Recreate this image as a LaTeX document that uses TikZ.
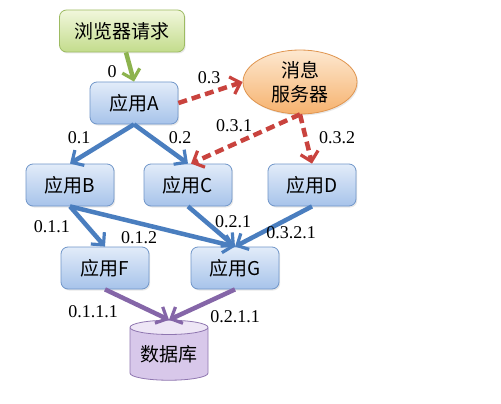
\documentclass[tikz,border=0pt]{standalone}
\usepackage{fontspec}
\setmainfont{Liberation Serif}
\newfontfamily\cjk{Noto Sans CJK SC}
\usetikzlibrary{shapes.geometric,arrows.meta,shadows}
\definecolor{bluetop}{HTML}{E2ECF9}
\definecolor{bluebot}{HTML}{A7C3EA}
\definecolor{blueline}{HTML}{7096C9}
\definecolor{greentop}{HTML}{F1F7DC}
\definecolor{greenbot}{HTML}{C3DC8C}
\definecolor{greenline}{HTML}{9DBB62}
\definecolor{orangetop}{HTML}{FDE8D0}
\definecolor{orangebot}{HTML}{F6B26E}
\definecolor{orangeline}{HTML}{E0954F}
\definecolor{purplebody}{HTML}{D8C8EA}
\definecolor{purpleend}{HTML}{EEE6F6}
\definecolor{purpleline}{HTML}{8F76B0}
\definecolor{arrblue}{HTML}{4A7EBF}
\definecolor{arrred}{HTML}{C9433E}
\definecolor{arrgreen}{HTML}{8DB34E}
\definecolor{arrpurple}{HTML}{8566A8}
\tikzset{
  appbox/.style={rectangle, rounded corners=7pt, draw=blueline, line width=0.8pt,
    top color=bluetop, bottom color=bluebot, minimum width=88pt, minimum height=42pt,
    inner sep=0pt, font=\cjk\fontsize{19}{22}\selectfont,
    drop shadow={opacity=0.18, shadow xshift=1.2pt, shadow yshift=-1.5pt}},
  reqbox/.style={appbox, draw=greenline, top color=greentop, bottom color=greenbot, minimum width=125pt},
  msgnode/.style={ellipse, draw=orangeline, line width=0.8pt, top color=orangetop, bottom color=orangebot,
    minimum width=114pt, minimum height=64pt, inner sep=0pt, align=center,
    font=\cjk\fontsize{19}{24}\selectfont,
    drop shadow={opacity=0.18, shadow xshift=1.2pt, shadow yshift=-1.5pt}},
  dbnode/.style={cylinder, shape border rotate=90, aspect=0.25, draw=purpleline, line width=0.8pt,
    cylinder uses custom fill, cylinder body fill=purplebody, cylinder end fill=purpleend,
    minimum width=78pt, minimum height=60pt, inner sep=0pt, font=\cjk\fontsize{19}{22}\selectfont},
  conn/.style={line width=4.5pt, -{Straight Barb[length=9pt,width=18pt,line width=3.2pt]}},
  bluearr/.style={conn, draw=arrblue},
  redarr/.style={conn, draw=arrred, dash pattern=on 9pt off 5pt},
  greenarr/.style={conn, draw=arrgreen},
  purplearr/.style={conn, draw=arrpurple},
  lbl/.style={font=\fontsize{18}{20}\selectfont, inner sep=0pt}
}
\begin{document}
\begin{tikzpicture}[x=1pt,y=-1pt]
\fill[white] (0,0) rectangle (501,404);
\useasboundingbox (0,0) rectangle (501,404);
% nodes
\node[reqbox] (req) at (122,31) {浏览器请求};
\node[appbox] (A) at (134,103) {应用A};
\node[msgnode] (msg) at (300,82) {消息\\服务器};
\node[appbox] (B) at (70,185) {应用B};
\node[appbox] (C) at (188,185) {应用C};
\node[appbox] (D) at (312,185) {应用D};
\node[appbox] (F) at (105,268) {应用F};
\node[appbox] (G) at (235,268) {应用G};
\node[dbnode] (db) at (169,354) {数据库};
% connectors
\draw[greenarr] (req.south) ++(4pt,0) coordinate (reqs) (reqs) -- (A.north);
\draw[redarr] (A.east) -- (msg.west);
\draw[redarr] (msg.south) -- ([xshift=3pt]C.north);
\draw[redarr] (msg.south) -- (D.north);
\draw[bluearr] (A.south) -- (B.north);
\draw[bluearr] (A.south) -- (C.north);
\draw[bluearr] (B.south) -- (F.north);
\draw[bluearr] (B.south) -- (G.north);
\draw[bluearr] (C.south) -- (G.north);
\draw[bluearr] (D.south) -- (G.north);
\draw[purplearr] (F.south) -- (db.top);
\draw[purplearr] (G.south) -- (db.top);
% labels
\node[lbl] (l0) at (112,72) {0};
\node[lbl] (l03) at (209,78) {0.3};
\node[lbl] (l01) at (79,138) {0.1};
\node[lbl] (l02) at (180,138) {0.2};
\node[lbl] (l031) at (234,126) {0.3.1};
\node[lbl] (l032) at (337,138) {0.3.2};
\node[lbl] (l011) at (52,227) {0.1.1};
\node[lbl] (l012) at (139,238) {0.1.2};
\node[lbl] (l021) at (233,222) {0.2.1};
\node[lbl] (l0321) at (291,233) {0.3.2.1};
\node[lbl] (l0111) at (93,312) {0.1.1.1};
\node[lbl] (l0211) at (235,317) {0.2.1.1};
\end{tikzpicture}
\end{document}
